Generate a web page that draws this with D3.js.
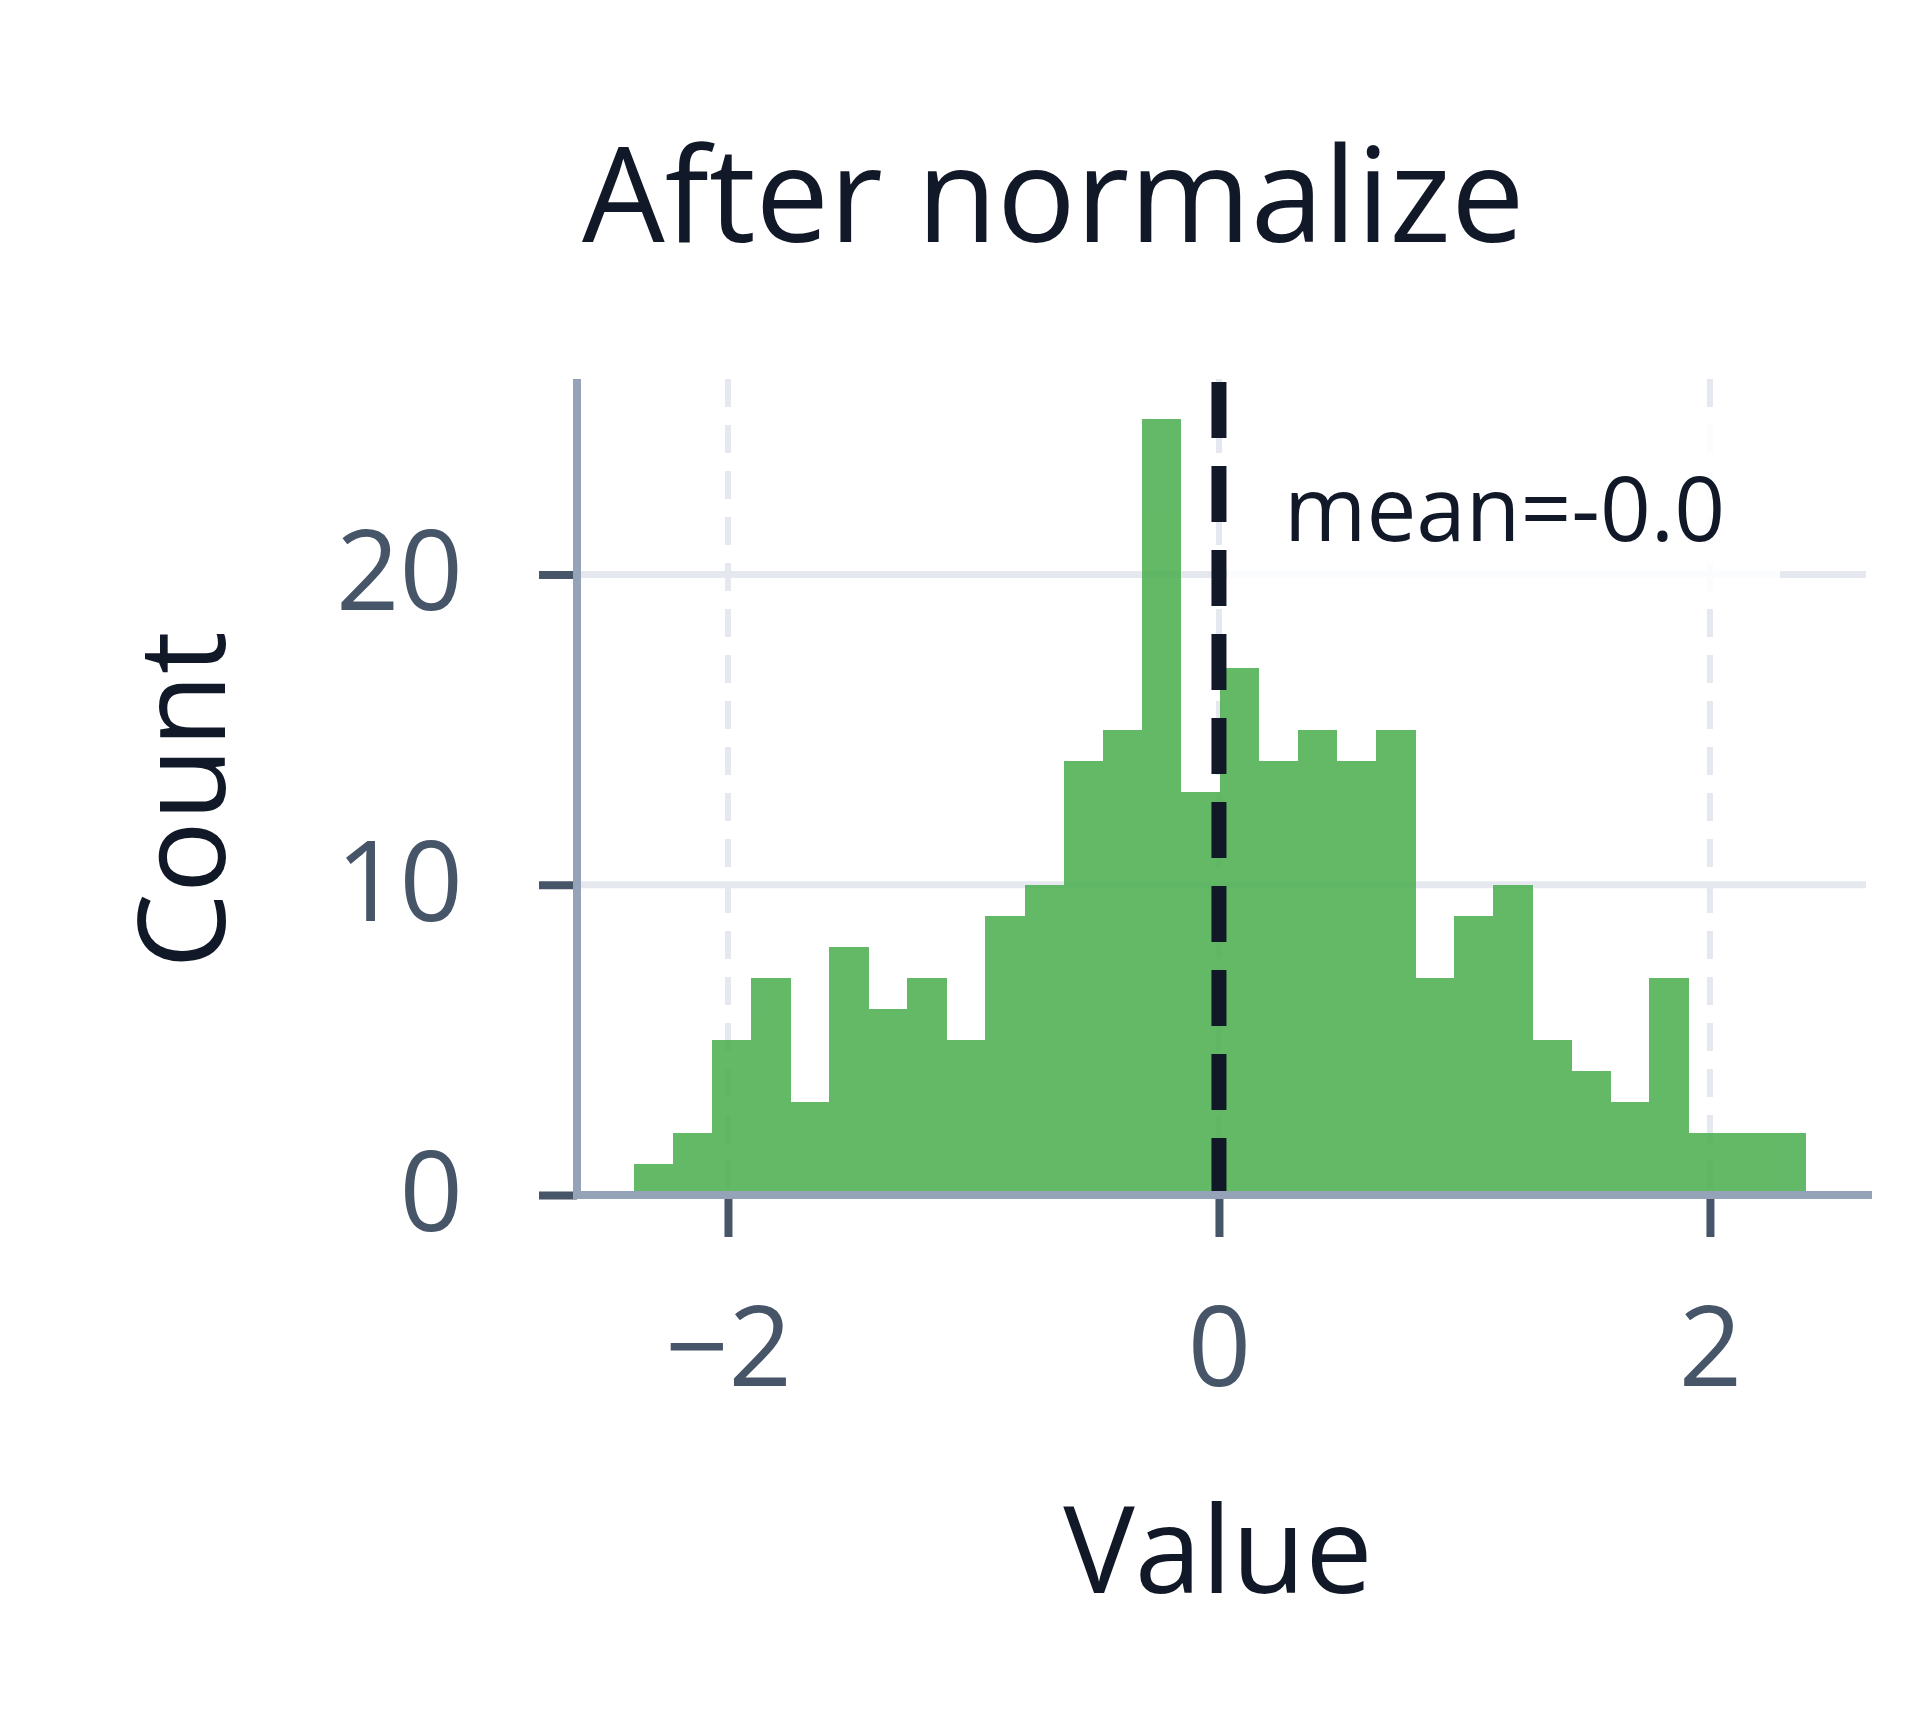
<!DOCTYPE html>
<html>
<head>
<meta charset="utf-8">
<script src="https://cdnjs.cloudflare.com/ajax/libs/d3/7.8.5/d3.min.js"></script>
<style>
  body { margin: 0; background: #ffffff; }
  svg { display: block; }
</style>
</head>
<body>
<div id="hist"></div>
<script>
// histogram data
var binStart = -2.383
var binWidth = 0.1591
var counts = [1, 2, 5, 7, 3, 8, 6, 7, 5, 9, 10, 14, 15, 25, 13, 17, 14, 15, 14, 15, 7, 9, 10, 5, 4, 3, 7, 2, 2, 2]
var xTicks = [-2, 0, 2]
var yTicks = [0, 10, 20]
var meanValue = 0.0
var meanLabel = "mean=-0.0"

var width = 1920
    height = 1728

var bins = counts.map(function(c, i) {
    return { x0: binStart + i * binWidth, x1: binStart + (i + 1) * binWidth, count: c }
})

var svg = d3.select("#hist")
            .append("svg")
            .attr("width", width)
            .attr("height", height)

var x = d3.scaleLinear()
          .domain([-2.615, 2.652])
          .range([577, 1870])

var y = d3.scaleLinear()
          .domain([0, 26.3])
          .range([1195, 379])

var font = "Open Sans"

// grid
svg.append("g").selectAll("line")
   .data(yTicks.filter(function(d) { return d > 0 }))
   .enter().append("line")
   .attr("x1", x.range()[0]).attr("x2", 1866)
   .attr("y1", function(d) { return y(d) }).attr("y2", function(d) { return y(d) })
   .attr("stroke", "#e5e8ee")
   .attr("stroke-width", 7)

svg.append("g").selectAll("line")
   .data(xTicks)
   .enter().append("line")
   .attr("x1", function(d) { return x(d) }).attr("x2", function(d) { return x(d) })
   .attr("y1", y.range()[1]).attr("y2", y.range()[0])
   .attr("stroke", "#e5e8ee")
   .attr("stroke-width", 6)
   .attr("stroke-dasharray", "28,18")

// bars, one shared opacity so the seams do not show
svg.append("g")
   .style("opacity", 0.87)
   .attr("shape-rendering", "crispEdges")
   .selectAll("rect")
   .data(bins)
   .enter().append("rect")
   .attr("x", function(d) { return x(d.x0) })
   .attr("width", function(d) { return x(d.x1) - x(d.x0) + 0.5 })
   .attr("y", function(d) { return y(d.count) })
   .attr("height", function(d) { return y(0) - y(d.count) })
   .attr("fill", "#4caf50")

// mean line
svg.append("line")
   .attr("x1", x(meanValue)).attr("x2", x(meanValue))
   .attr("y1", 382).attr("y2", y(0))
   .attr("stroke", "#111827")
   .attr("stroke-width", 15)
   .attr("stroke-dasharray", "56,28")

// annotation
svg.append("rect")
   .attr("x", 1227).attr("y", 418)
   .attr("width", 553).attr("height", 182)
   .attr("fill", "#ffffff")
   .style("opacity", 0.85)

svg.append("text")
   .attr("x", 1284).attr("y", 541)
   .attr("font-family", font)
   .attr("font-size", "89px")
   .attr("fill", "#111827")
   .text(meanLabel)

// axes
var yAxis = svg.append("g")
   .attr("transform", "translate(577,0)")
   .call(d3.axisLeft(y).tickValues(yTicks).tickSize(38).tickPadding(76).tickFormat(d3.format("d")))

var xAxis = svg.append("g")
   .attr("transform", "translate(0,1195)")
   .call(d3.axisBottom(x).tickValues(xTicks).tickSize(42).tickPadding(70).tickFormat(d3.format("d")))

svg.selectAll(".domain").remove()

svg.selectAll(".tick line")
   .attr("stroke", "#475569")
   .attr("stroke-width", 8)

svg.selectAll(".tick text")
   .attr("font-family", font)
   .attr("font-size", "111px")
   .attr("fill", "#475569")

svg.append("line")
   .attr("x1", 577).attr("x2", 577)
   .attr("y1", 379).attr("y2", 1199)
   .attr("stroke", "#94a3b8")
   .attr("stroke-width", 8)

svg.append("line")
   .attr("x1", 573).attr("x2", 1872)
   .attr("y1", 1195).attr("y2", 1195)
   .attr("stroke", "#94a3b8")
   .attr("stroke-width", 8)

// titles
svg.append("text")
   .attr("x", 582).attr("y", 242)
   .attr("font-family", font)
   .attr("font-size", "131px")
   .attr("fill", "#111827")
   .text("After normalize")

svg.append("text")
   .attr("text-anchor", "middle")
   .attr("x", 1218).attr("y", 1593)
   .attr("font-family", font)
   .attr("font-size", "120px")
   .attr("fill", "#111827")
   .text("Value")

svg.append("text")
   .attr("text-anchor", "middle")
   .attr("transform", "translate(225,800) rotate(-90)")
   .attr("font-family", font)
   .attr("font-size", "120px")
   .attr("fill", "#111827")
   .text("Count")
</script>
</body>
</html>
